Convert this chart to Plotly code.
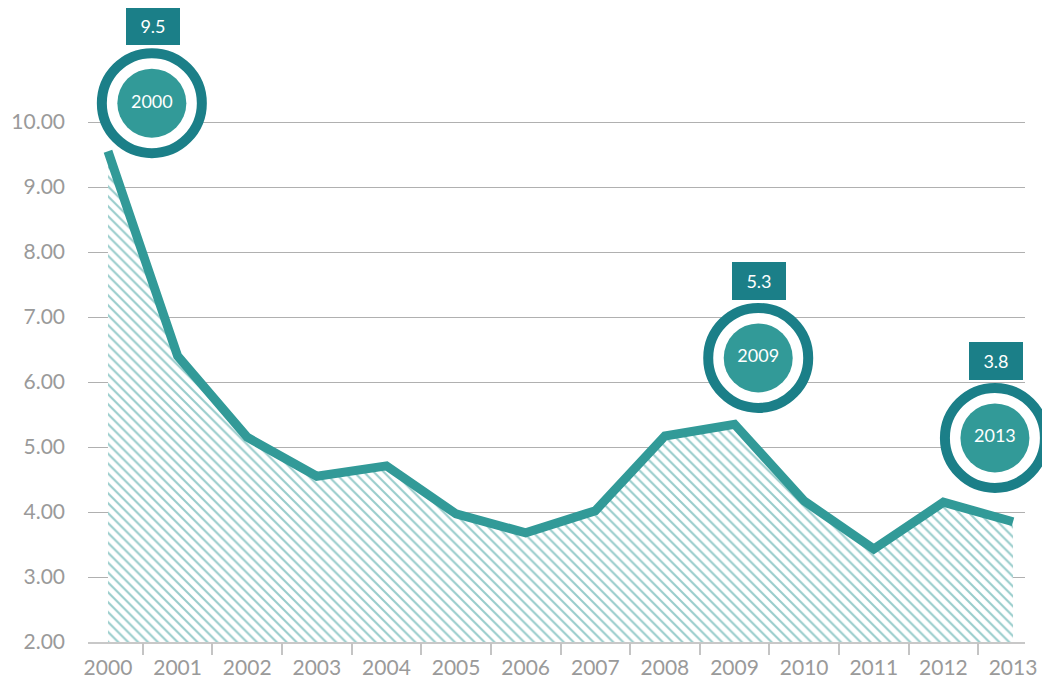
import plotly.graph_objects as go

# ---- data ----
years = list(range(2000, 2014))
values = [9.55, 6.40, 5.15, 4.55, 4.71, 3.97, 3.68, 4.02, 5.17, 5.35, 4.17, 3.43, 4.15, 3.85]
highlight_years = [2000, 2009, 2013]
highlight_labels = ["9.5", "5.3", "3.8"]
y_ticks = [2, 3, 4, 5, 6, 7, 8, 9, 10]
y_tick_text = ["2.00", "3.00", "4.00", "5.00", "6.00", "7.00", "8.00", "9.00", "10.00"]

# ---- style / layout constants ----
LINE = "#329a98"
DARK = "#1b7f88"
GRID = "#b0b0b0"
FONT = "Lato"
# badge positions (placement of the decorative circles, in axis units)
badge_x = [2000.63, 2009.34, 2012.74]
badge_y = [10.29, 6.37, 5.14]

fig = go.Figure()

fig.add_trace(go.Scatter(
    x=years, y=values, mode="lines",
    line=dict(color=LINE, width=9),
    fill="tozeroy", fillcolor="rgba(0,0,0,0)",
    fillpattern=dict(shape="\\", fgcolor=LINE, bgcolor="white", size=7, solidity=0.3),
    hoverinfo="skip", showlegend=False,
))

# outer ring
fig.add_trace(go.Scatter(
    x=badge_x, y=badge_y, mode="markers", cliponaxis=False,
    marker=dict(size=100, color="white", line=dict(color=DARK, width=10)),
    hoverinfo="skip", showlegend=False,
))
# inner disc with year
fig.add_trace(go.Scatter(
    x=badge_x, y=badge_y, mode="markers+text", cliponaxis=False,
    marker=dict(size=69, color=LINE, line=dict(width=0)),
    text=[str(y) for y in highlight_years], textposition="middle center",
    textfont=dict(family=FONT, size=18, color="white"),
    hoverinfo="skip", showlegend=False,
))

for bx, by, lab in zip(badge_x, badge_y, highlight_labels):
    fig.add_annotation(
        x=bx, y=by, xref="x", yref="y", yshift=77, xshift=1,
        text=lab, showarrow=False,
        font=dict(family=FONT, size=18, color="white"),
        bgcolor=DARK, width=54, height=38, borderpad=0, borderwidth=0,
        align="center", valign="middle",
    )

xr = [1999.713, 2013.172]
fig.update_layout(
    width=1050, height=683,
    margin=dict(l=80, r=33, t=0, b=49),
    paper_bgcolor="white", plot_bgcolor="white",
    font=dict(family=FONT, size=20, color="#9a9a9a"),
    xaxis=dict(
        range=xr, tickvals=years, ticktext=[str(y) for y in years],
        ticks="", showgrid=False, zeroline=False,
        showline=True, linecolor="#c8c8c8", linewidth=2,
        tickfont=dict(family=FONT, size=21, color="#9a9a9a"),
        ticklabelstandoff=6,
    ),
    xaxis2=dict(
        range=xr, overlaying="x", anchor="y", side="bottom",
        tickvals=[y + 0.5 for y in years[:-1]], ticks="outside", ticklen=12,
        tickwidth=2, tickcolor="#c4c4c4", showticklabels=False,
        showgrid=False, zeroline=False, showline=False,
    ),
    yaxis=dict(
        range=[2, 11.754], tickvals=y_ticks, ticktext=y_tick_text,
        showgrid=True, gridcolor=GRID, gridwidth=1, zeroline=False,
        showline=False, ticks="",
        tickfont=dict(family=FONT, size=21, color="#9a9a9a"),
        ticklabelstandoff=22,
    ),
)
# dummy trace to activate xaxis2
fig.add_trace(go.Scatter(x=[xr[0]], y=[None], xaxis="x2", yaxis="y",
                         showlegend=False, hoverinfo="skip"))

fig.write_html("out.html")
